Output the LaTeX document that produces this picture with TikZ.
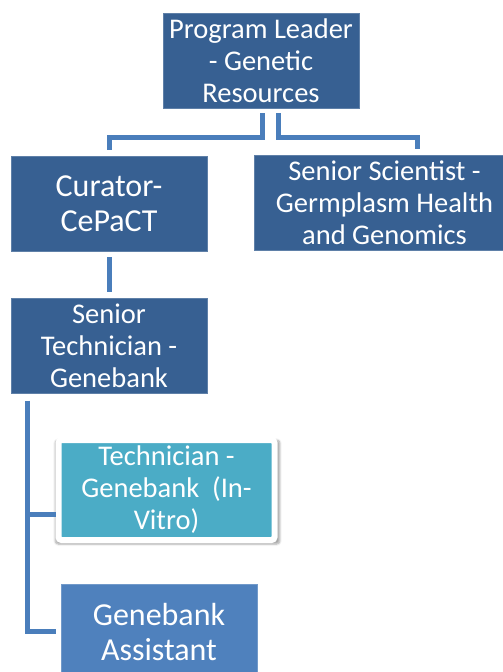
\documentclass[tikz,border=0pt]{standalone}
\usepackage{fontspec}
\setmainfont{Carlito}
\usetikzlibrary{shadows.blur}
\definecolor{DarkBlue}{HTML}{376092}
\definecolor{MidBlue}{HTML}{4F81BD}
\definecolor{Teal}{HTML}{4BACC6}
\definecolor{LineBlue}{HTML}{4A7EBB}

\begin{document}
\begin{tikzpicture}[x=1pt,y=-1pt,line width=5pt,
box/.style={fill=#1,draw=#1!80!white,line width=.8pt,text=white,align=center,
  minimum width=196pt,minimum height=95pt,inner sep=0pt},
big/.style={font=\fontsize{32}{35}\selectfont},
conn/.style={draw=LineBlue},
nodes={font=\fontsize{28.5}{32}\selectfont}]
\useasboundingbox (0,0) rectangle (503,672);
\node[box=DarkBlue] (lead) at (261,60.5) {Program Leader\\- Genetic\\Resources};
\node[box=DarkBlue,big] (cur) at (109,203.5) {Curator-\\CePaCT};
\node[box=DarkBlue,minimum width=261pt] (sci) at (384.5,202.5)
  {Senior Scientist -\\Germplasm Health\\and Genomics};
\node[box=DarkBlue] (stech) at (109,346) {Senior\\Technician -\\Genebank};
\node[box=Teal,minimum width=216pt,minimum height=100pt,draw=white,line width=6pt,
  rounded corners=3pt,
  blur shadow={shadow xshift=1pt,shadow yshift=-2pt,shadow scale=1.04,
    shadow opacity=35,shadow blur steps=6}]
  (tech) at (166.5,490) {Technician -\\Genebank\ \ (In-\\Vitro)};
\node[box=MidBlue,big] (asst) at (159,631.5) {Genebank\\Assistant};
% connectors
\draw[conn] ([xshift=1pt,yshift=-5pt]lead.south) -- ++(0,24) -| ([yshift=6pt]cur.north);
\draw[conn] ([xshift=17pt,yshift=-5pt]lead.south) -- ++(0,24) -| ([xshift=32.5pt,yshift=6pt]sci.north);
\draw[conn] ([yshift=-6pt]cur.south) -- ([yshift=6pt]stech.north);
\draw[conn] ([xshift=17pt,yshift=-7pt]stech.south west) |- ([yshift=-24pt]tech.west);
\draw[conn] ([xshift=17pt,yshift=-7pt]stech.south west) |- ([xshift=-5pt]asst.west);
\end{tikzpicture}
\end{document}
